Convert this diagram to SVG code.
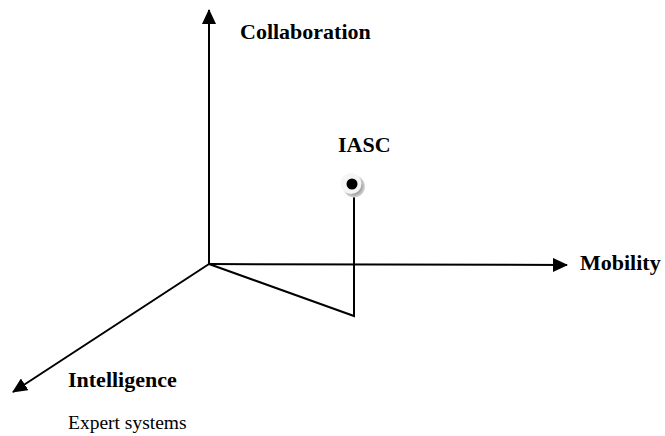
<svg xmlns="http://www.w3.org/2000/svg" width="665" height="436" viewBox="0 0 665 436">
<style>
.ax{stroke:#000;stroke-width:2;fill:none}
.b{font-family:"Liberation Serif",serif;font-weight:bold;font-size:22px;fill:#000}
.n{font-family:"Liberation Serif",serif;font-size:19.5px;fill:#000}
</style>
<defs>
<marker id="ah" markerWidth="15" markerHeight="14" refX="14" refY="7" orient="auto" markerUnits="userSpaceOnUse">
<path d="M0,0 L15,7 L0,14 Z" fill="#000"/>
</marker>
<radialGradient id="sh" cx="0.5" cy="0.5" r="0.5">
<stop offset="0.7" stop-color="#a8a8a8"/>
<stop offset="1" stop-color="#d8d8d8"/>
</radialGradient>
</defs>
<g id="connectors">
<line class="ax" x1="209" y1="264" x2="209" y2="10" marker-end="url(#ah)"/>
<line class="ax" x1="209" y1="264" x2="567" y2="265" marker-end="url(#ah)"/>
<line class="ax" x1="209" y1="264" x2="13" y2="392" marker-end="url(#ah)"/>
<polyline class="ax" points="209,264 354,316 354,195"/>
</g>
<g id="collaboration"><text class="b" x="240" y="39">Collaboration</text></g>
<g id="mobility"><text class="b" x="580" y="270">Mobility</text></g>
<g id="intelligence"><text class="b" x="68" y="387" font-size="22.8">Intelligence</text>
<text class="n" x="68" y="429">Expert systems</text></g>
<g id="iasc"><text class="b" x="338" y="152" font-size="24.5">IASC</text>
<circle cx="354" cy="186.5" r="11" fill="url(#sh)"/>
<circle cx="351" cy="183.5" r="10.5" fill="#f5f5f5"/>
<circle cx="352" cy="184" r="5.5" fill="#000"/></g>
</svg>
